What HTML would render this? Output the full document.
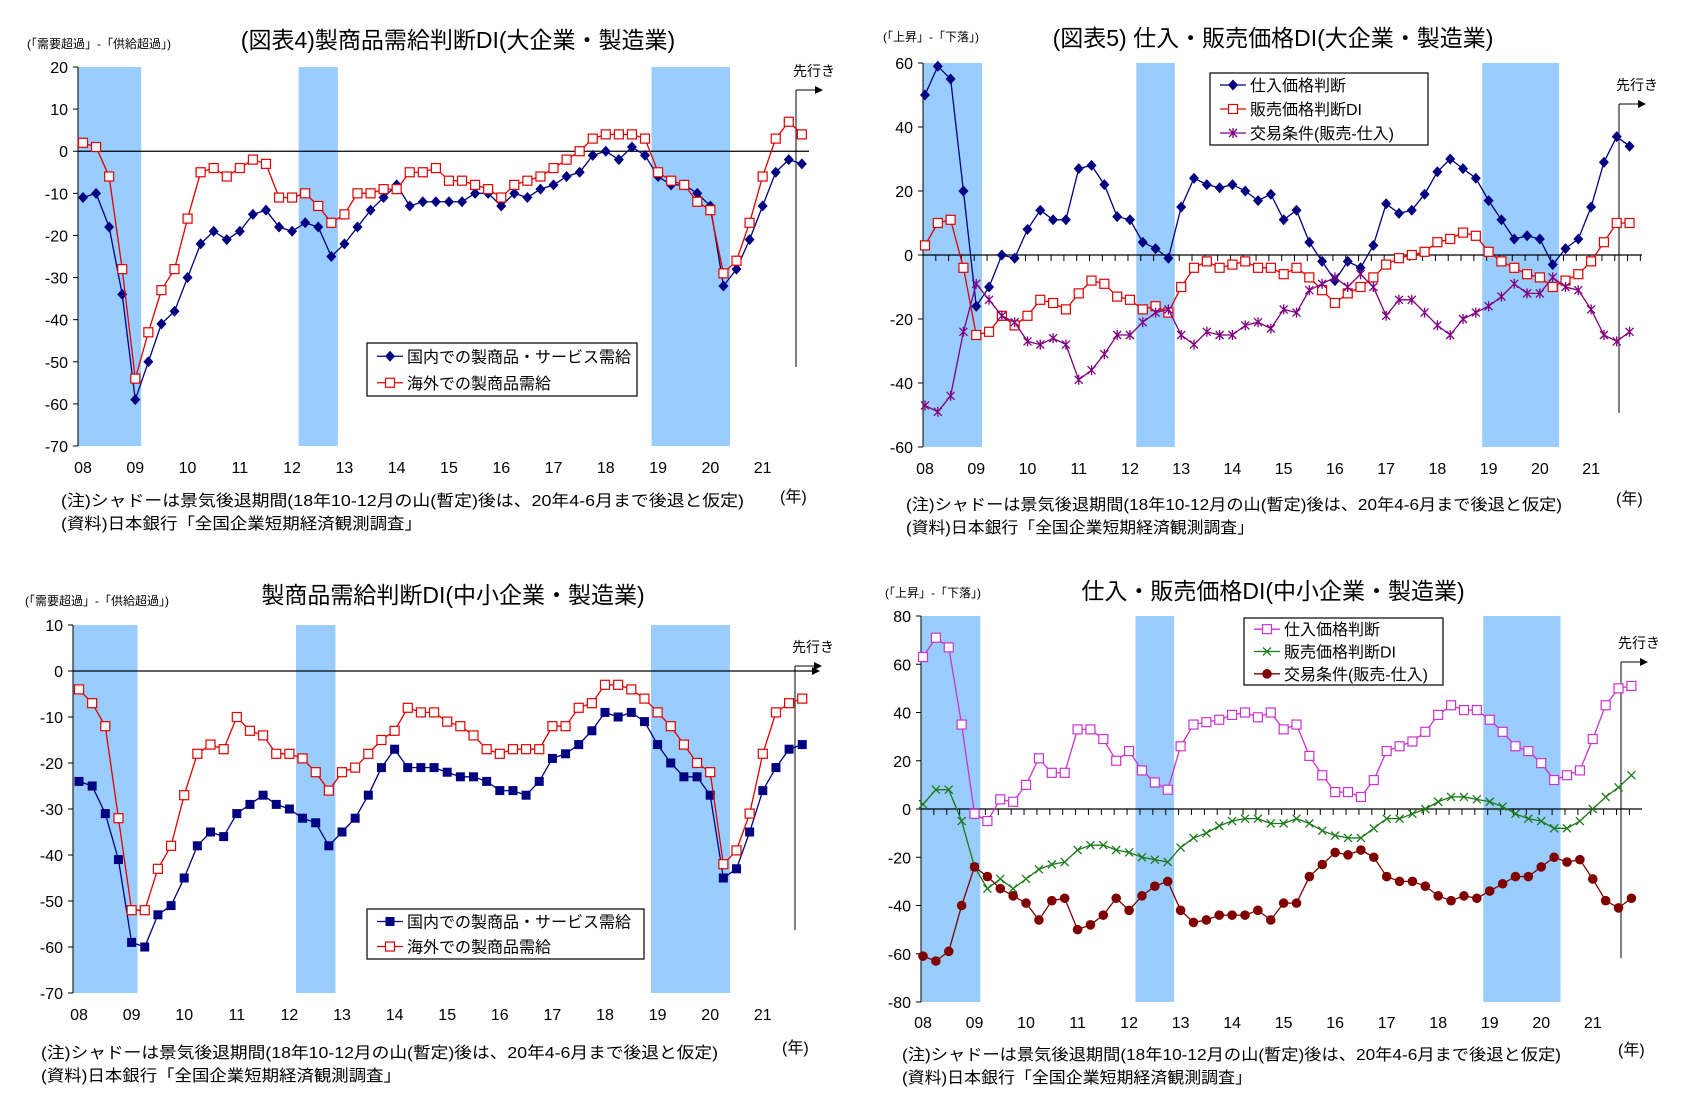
<!DOCTYPE html>
<html><head><meta charset="utf-8">
<style>
html,body{margin:0;padding:0;background:#fff;}
svg{display:block;font-family:"Liberation Sans","Noto Sans CJK JP",sans-serif;}
</style></head>
<body>
<svg id="root" width="1683" height="1111" viewBox="0 0 1683 1111" xmlns="http://www.w3.org/2000/svg"></svg>
<script>
const yearLabels = ["08","09","10","11","12","13","14","15","16","17","18","19","20","21"];
const chart1Ticks = [20,10,0,-10,-20,-30,-40,-50,-60,-70];
const chart2Ticks = [60,40,20,0,-20,-40,-60];
const chart3Ticks = [10,0,-10,-20,-30,-40,-50,-60,-70];
const chart4Ticks = [80,60,40,20,0,-20,-40,-60,-80];
const recessionStarts = [-0.5,16.5,43.5];
const recessionEnds = [4.45,19.5,49.5];

const chart1Domestic = [-11,-10,-18,-34,-59,-50,-41,-38,-30,-22,-19,-21,-19,-15,-14,-18,-19,-17,-18,-25,-22,-18,-14,-11,-8,-13,-12,-12,-12,-12,-10,-10,-13,-10,-11,-9,-8,-6,-5,-1,0,-2,1,-1,-6,-8,-8,-10,-13,-32,-28,-21,-13,-5,-2,-3];
const chart1Overseas = [2,1,-6,-28,-54,-43,-33,-28,-16,-5,-4,-6,-4,-2,-3,-11,-11,-10,-13,-17,-15,-10,-10,-9,-9,-5,-5,-4,-7,-7,-8,-9,-11,-8,-7,-6,-4,-2,0,3,4,4,4,3,-5,-7,-8,-12,-14,-29,-26,-17,-6,3,7,4];

const chart2Input = [50,59,55,20,-16,-10,0,-1,8,14,11,11,27,28,22,12,11,4,2,-1,15,24,22,21,22,20,17,19,11,14,4,-2,-8,-2,-4,3,16,13,14,19,26,30,27,24,17,11,5,6,5,-3,2,5,15,29,37,34];
const chart2Output = [3,10,11,-4,-25,-24,-19,-22,-19,-14,-15,-17,-12,-8,-9,-13,-14,-17,-16,-18,-10,-4,-2,-4,-3,-2,-4,-4,-6,-4,-7,-11,-15,-12,-10,-7,-3,-1,0,1,4,5,7,6,1,-2,-4,-6,-7,-10,-8,-6,-2,4,10,10];
const chart2Terms = [-47,-49,-44,-24,-9,-14,-19,-21,-27,-28,-26,-28,-39,-36,-31,-25,-25,-21,-18,-17,-25,-28,-24,-25,-25,-22,-21,-23,-17,-18,-11,-9,-7,-10,-6,-10,-19,-14,-14,-18,-22,-25,-20,-18,-16,-13,-9,-12,-12,-7,-10,-11,-17,-25,-27,-24];

const chart3Domestic = [-24,-25,-31,-41,-59,-60,-53,-51,-45,-38,-35,-36,-31,-29,-27,-29,-30,-32,-33,-38,-35,-32,-27,-21,-17,-21,-21,-21,-22,-23,-23,-24,-26,-26,-27,-24,-19,-18,-16,-13,-9,-10,-9,-11,-16,-20,-23,-23,-27,-45,-43,-35,-26,-21,-17,-16];
const chart3Overseas = [-4,-7,-12,-32,-52,-52,-43,-38,-27,-18,-16,-17,-10,-13,-14,-18,-18,-19,-22,-26,-22,-21,-18,-15,-13,-8,-9,-9,-11,-12,-14,-17,-18,-17,-17,-17,-12,-12,-8,-7,-3,-3,-4,-6,-9,-12,-16,-20,-22,-42,-39,-31,-18,-9,-7,-6];

const chart4Input = [63,71,67,35,-2,-5,4,3,10,21,15,15,33,33,29,20,24,16,11,8,26,35,36,37,39,40,38,40,33,35,22,14,7,7,5,12,24,26,28,32,39,43,41,41,37,32,26,24,19,12,14,16,29,43,50,51];
const chart4Output = [2,8,8,-5,-24,-33,-29,-33,-29,-25,-23,-22,-17,-15,-15,-17,-18,-20,-21,-22,-16,-12,-10,-7,-5,-4,-4,-6,-6,-4,-6,-9,-11,-12,-12,-8,-4,-4,-2,0,3,5,5,4,3,1,-2,-4,-5,-8,-8,-5,0,5,9,14];
const chart4Terms = [-61,-63,-59,-40,-24,-28,-33,-36,-39,-46,-38,-37,-50,-48,-44,-37,-42,-36,-32,-30,-42,-47,-46,-44,-44,-44,-42,-46,-39,-39,-28,-23,-18,-19,-17,-20,-28,-30,-30,-32,-36,-38,-36,-37,-34,-31,-28,-28,-24,-20,-22,-21,-29,-38,-41,-37];

const NS = "http://www.w3.org/2000/svg";
const root = document.getElementById("root");
function mk(tag, attrs, parent, txt) {
  const e = document.createElementNS(NS, tag);
  for (const k in attrs) e.setAttribute(k, attrs[k]);
  if (txt !== undefined) e.textContent = txt;
  (parent || root).appendChild(e);
  return e;
}

function marker(g, type, x, y, color) {
  let m;
  if (type === "diamond") {
    m = mk("polygon", {points: `${x},${y-5.5} ${x+5},${y} ${x},${y+5.5} ${x-5},${y}`, fill: color}, g);
  } else if (type === "square-open") {
    m = mk("rect", {x: x-4.5, y: y-4.5, width: 9, height: 9, fill: "#fff", stroke: color, "stroke-width": 1.2}, g);
  } else if (type === "square") {
    m = mk("rect", {x: x-4.5, y: y-4.5, width: 9, height: 9, fill: color}, g);
  } else if (type === "circle") {
    m = mk("circle", {cx: x, cy: y, r: 4.8, fill: color}, g);
  } else if (type === "x") {
    m = mk("path", {d: `M${x-4},${y-4}L${x+4},${y+4}M${x-4},${y+4}L${x+4},${y-4}`, stroke: color, "stroke-width": 1.3, fill: "none"}, g);
  } else {
    m = mk("path", {d: `M${x-4},${y-4}L${x+4},${y+4}M${x-4},${y+4}L${x+4},${y-4}M${x},${y-5}L${x},${y+5}`, stroke: color, "stroke-width": 1.3, fill: "none"}, g);
  }
  
  
}

function drawChart(c) {
  const g = mk("g", {});
  
  
  const yScale = v => c.yTop + (c.vmax - v) / (c.vmax - c.vmin) * (c.yBot - c.yTop);
  const xScale = i => c.x0 + i * c.dx;
  for (let k = 0; k < recessionStarts.length; k++) {
    const xa = Math.max(c.axisX, xScale(recessionStarts[k]));
    const xb = xScale(recessionEnds[k]);
    const r = mk("rect", {x: xa, y: c.yTop, width: xb - xa, height: c.yBot - c.yTop, fill: "#99ccff"}, g);
    
    
  }
  const ax = mk("line", {x1: c.axisX, y1: c.yTop, x2: c.axisX, y2: c.yBot, stroke: "#000", "stroke-width": 1}, g);
  
  
  c.ticks.forEach(t => {
    const y = yScale(t);
    mk("line", {x1: c.axisX - 5, y1: y, x2: c.axisX, y2: y, stroke: "#000"}, g);
    const tl = mk("text", {x: c.axisX - 10, y: y + 6, "text-anchor": "end", "font-size": 16}, g, String(t));
    
    
  });
  const zy = yScale(0);
  const zl = mk("line", {x1: c.axisX, y1: zy, x2: c.zeroEnd, y2: zy, stroke: "#000", "stroke-width": 1.3}, g);
  
  
  if (c.arrowZero) {
    mk("polygon", {points: `${c.zeroEnd+8},${zy} ${c.zeroEnd},${zy-4} ${c.zeroEnd},${zy+4}`, fill: "#000"}, g);
  }
  if (c.zeroTicks) {
    for (let i = 0; i <= 56; i++) {
      const x = c.axisX + i * c.dx;
      if (x > c.zeroEnd) break;
      mk("line", {x1: x, y1: zy, x2: x, y2: zy + 6, stroke: "#000"}, g);
    }
  }
  yearLabels.forEach((l, k) => {
    const t = mk("text", {x: xScale(k * 4), y: c.xLabelY, "text-anchor": "middle", "font-size": 16}, g, l);
    
    
  });
  const fl = mk("line", {x1: c.fx, y1: c.fTop, x2: c.fx, y2: c.fBot, stroke: "#000"}, g);
  
  
  mk("line", {x1: c.fx, y1: c.fTop, x2: c.fx + 20, y2: c.fTop, stroke: "#000"}, g);
  mk("polygon", {points: `${c.fx+27},${c.fTop} ${c.fx+19},${c.fTop-4} ${c.fx+19},${c.fTop+4}`, fill: "#000"}, g);
  const ft = mk("text", {x: c.fx + 18, y: c.fTop - 14, "text-anchor": "middle", "font-size": 14}, g, "先行き");
  
  
  c.series.forEach(s => {
    const sg = mk("g", {}, g);
    
    
    const pts = s.data.map((v, i) => `${xScale(i)},${yScale(v)}`).join(" ");
    mk("polyline", {points: pts, fill: "none", stroke: s.color, "stroke-width": 1.3}, sg);
    s.data.forEach((v, i) => marker(sg, s.marker, xScale(i), yScale(v), s.color));
  });
  const ti = mk("text", {x: c.titleX, y: c.titleY, "text-anchor": "middle", "font-size": 23}, g, c.title);
  
  
  const un = mk("text", {x: c.unitX, y: c.unitY, "font-size": 12}, g, c.unit);
  
  
  const n1 = mk("text", {x: c.noteX, y: c.noteY, "font-size": 16, textLength: c.n1w, lengthAdjust: "spacingAndGlyphs"}, g, "(注)シャドーは景気後退期間(18年10-12月の山(暫定)後は、20年4-6月まで後退と仮定)");
  
  
  const n2 = mk("text", {x: c.noteX, y: c.noteY + 23, "font-size": 16, textLength: c.n2w, lengthAdjust: "spacingAndGlyphs"}, g, "(資料)日本銀行「全国企業短期経済観測調査」");
  
  
  const yr = mk("text", {x: c.yearX, y: c.yearY, "font-size": 16}, g, "(年)");
  
  
  const lg = mk("g", {}, g);
  
  
  mk("rect", {x: c.lx, y: c.ly, width: c.lw, height: c.lh, fill: "#fff", stroke: "#000", "stroke-width": 1.2}, lg);
  const step = c.lh / c.series.length;
  c.series.forEach((s, k) => {
    const yy = c.ly + step * (k + 0.5);
    const e = mk("g", {}, lg);
    
    
    mk("line", {x1: c.lx + 10, y1: yy, x2: c.lx + 36, y2: yy, stroke: s.color, "stroke-width": 1.3}, e);
    marker(e, s.marker, c.lx + 23, yy, s.color);
    mk("text", {x: c.lx + 40, y: yy + 6, "font-size": 16}, e, s.label);
  });
}

drawChart({name: "chart-large-supply-demand", x0: 83, dx: 13.07, axisX: 78, yTop: 67, yBot: 446, vmax: 20, vmin: -70, ticks: chart1Ticks,
  zeroEnd: 809, arrowZero: false, zeroTicks: false, xLabelY: 473, fx: 796, fTop: 90, fBot: 367,
  title: "(図表4)製商品需給判断DI(大企業・製造業)", titleX: 458, titleY: 48, unit: "(「需要超過」-「供給超過」)", unitX: 27, unitY: 48,
  noteX: 61, noteY: 506, n1w: 683, n2w: 361, yearX: 780, yearY: 502, lx: 367, ly: 343, lw: 270, lh: 53,
  series: [
    {name: "series-domestic", label: "国内での製商品・サービス需給", data: chart1Domestic, color: "#000080", marker: "diamond"},
    {name: "series-overseas", label: "海外での製商品需給", data: chart1Overseas, color: "#e00000", marker: "square-open"}]});

drawChart({name: "chart-large-prices", x0: 925, dx: 12.81, axisX: 923, yTop: 63, yBot: 447, vmax: 60, vmin: -60, ticks: chart2Ticks,
  zeroEnd: 1642, arrowZero: false, zeroTicks: true, xLabelY: 474, fx: 1619, fTop: 104, fBot: 413,
  title: "(図表5)  仕入・販売価格DI(大企業・製造業)", titleX: 1273, titleY: 46, unit: "(「上昇」-「下落」)", unitX: 883, unitY: 41,
  noteX: 906, noteY: 510, n1w: 656, n2w: 348, yearX: 1616, yearY: 504, lx: 1210, ly: 73, lw: 218, lh: 72,
  series: [
    {name: "series-input-price", label: "仕入価格判断", data: chart2Input, color: "#000080", marker: "diamond"},
    {name: "series-output-price", label: "販売価格判断DI", data: chart2Output, color: "#e00000", marker: "square-open"},
    {name: "series-terms-of-trade", label: "交易条件(販売-仕入)", data: chart2Terms, color: "#800080", marker: "asterisk"}]});

drawChart({name: "chart-small-supply-demand", x0: 79, dx: 13.15, axisX: 73, yTop: 625, yBot: 993, vmax: 10, vmin: -70, ticks: chart3Ticks,
  zeroEnd: 812, arrowZero: true, zeroTicks: false, xLabelY: 1020, fx: 795, fTop: 666, fBot: 930,
  title: "製商品需給判断DI(中小企業・製造業)", titleX: 453, titleY: 603, unit: "(「需要超過」-「供給超過」)", unitX: 25, unitY: 605,
  noteX: 41, noteY: 1058, n1w: 677, n2w: 360, yearX: 782, yearY: 1053, lx: 367, ly: 909, lw: 277, lh: 50,
  series: [
    {name: "series-domestic", label: "国内での製商品・サービス需給", data: chart3Domestic, color: "#000080", marker: "square"},
    {name: "series-overseas", label: "海外での製商品需給", data: chart3Overseas, color: "#e00000", marker: "square-open"}]});

drawChart({name: "chart-small-prices", x0: 923, dx: 12.88, axisX: 921, yTop: 616, yBot: 1002, vmax: 80, vmin: -80, ticks: chart4Ticks,
  zeroEnd: 1642, arrowZero: false, zeroTicks: true, xLabelY: 1028, fx: 1621, fTop: 662, fBot: 958,
  title: "仕入・販売価格DI(中小企業・製造業)", titleX: 1273, titleY: 599, unit: "(「上昇」-「下落」)", unitX: 885, unitY: 597,
  noteX: 902, noteY: 1060, n1w: 659, n2w: 350, yearX: 1618, yearY: 1055, lx: 1244, ly: 618, lw: 199, lh: 67,
  series: [
    {name: "series-input-price", label: "仕入価格判断", data: chart4Input, color: "#cc33cc", marker: "square-open"},
    {name: "series-output-price", label: "販売価格判断DI", data: chart4Output, color: "#1a7a1a", marker: "x"},
    {name: "series-terms-of-trade", label: "交易条件(販売-仕入)", data: chart4Terms, color: "#800000", marker: "circle"}]});
</script>
</body></html>
